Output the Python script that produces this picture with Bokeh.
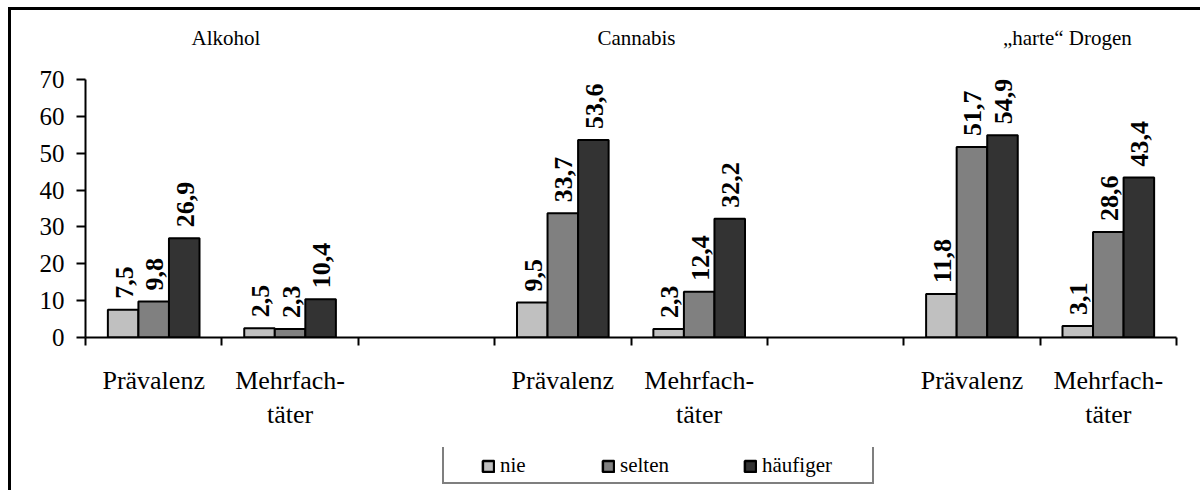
import math
from bokeh.plotting import figure
from bokeh.layouts import column
from bokeh.models import Range1d, FixedTicker, Legend, LegendItem, LinearAxis, ColumnDataSource
from bokeh.core.properties import value
from bokeh.embed import file_html
from bokeh.resources import INLINE

# ---- data ----
substances = ["Alkohol", "Cannabis", "„harte“ Drogen"]
measures = ["Prävalenz", "Mehrfach-\ntäter"]
series_names = ["nie", "selten", "häufiger"]
nie = [7.5, 2.5, 9.5, 2.3, 11.8, 3.1]
selten = [9.8, 2.3, 33.7, 12.4, 51.7, 28.6]
haeufiger = [26.9, 10.4, 53.6, 32.2, 54.9, 43.4]
y_ticks = [0, 10, 20, 30, 40, 50, 60, 70]

series = [nie, selten, haeufiger]
colors = ["#C0C0C0", "#808080", "#333333"]
FONT = "Liberation Serif"

# slots: each substance gets 2 measure slots + 1 empty slot
n_slots = len(substances) * 3 - 1
slot_of = [(j // 2) * 3 + (j % 2) for j in range(len(nie))]
bw = 0.224
offsets = [-bw, 0.0, bw]

BORDER_L, BORDER_R = 74, 24

p = figure(width=1189, height=437, output_backend="svg", toolbar_location=None,
           x_range=Range1d(0, n_slots), y_range=Range1d(0, 70),
           min_border_left=BORDER_L, min_border_right=BORDER_R,
           min_border_top=69, min_border_bottom=110)
p.outline_line_color = None
p.xgrid.visible = False
p.ygrid.visible = False
p.background_fill_color = "white"
p.border_fill_color = "white"

renderers = []
for k, vals in enumerate(series):
    xs = [s + 0.5 + offsets[k] for s in slot_of]
    labels = [f"{v:.1f}".replace(".", ",") for v in vals]
    src = ColumnDataSource(dict(x=xs, top=vals, lab=labels))
    r = p.vbar(x="x", top="top", bottom=0, width=bw, source=src,
               fill_color=colors[k], line_color="black", line_width=2)
    renderers.append(r)
    p.text(x="x", y="top", text="lab", source=src, angle=math.pi / 2,
           text_align="left", text_baseline="middle", y_offset=-11, x_offset=1,
           text_font=value(FONT), text_font_style="bold", text_font_size=value("26px"),
           text_color="black")

# y axis
ya = p.yaxis[0]
ya.ticker = FixedTicker(ticks=y_ticks)
ya.axis_line_width = 2
ya.axis_line_color = "black"
ya.major_tick_line_width = 2
ya.major_tick_line_color = "black"
ya.major_tick_out = 9
ya.major_tick_in = 0
ya.minor_tick_line_color = None
ya.major_label_text_font = FONT
ya.major_label_text_font_size = "25px"
ya.major_label_text_color = "black"
ya.major_label_standoff = 12

# x axis: labels at slot centres, tick marks at slot boundaries
cat_labels = []
for s in substances:
    cat_labels += measures + [""]
cat_labels = cat_labels[:n_slots]
xa = p.xaxis[0]
xa.ticker = FixedTicker(ticks=[i + 0.5 for i in range(n_slots)],
                        minor_ticks=list(range(n_slots + 1)))
xa.major_label_overrides = {i + 0.5: cat_labels[i] for i in range(n_slots)}
xa.major_tick_line_color = None
xa.major_tick_out = 8
xa.major_tick_in = 0
xa.minor_tick_line_color = "black"
xa.minor_tick_line_width = 2
xa.minor_tick_out = 8
xa.minor_tick_in = 0
xa.axis_line_width = 2
xa.axis_line_color = "black"
xa.major_label_text_font = FONT
xa.major_label_text_font_size = "26px"
xa.major_label_text_color = "black"
xa.major_label_standoff = 20

# substance titles as an axis above the frame
title_pos = [1.03, 4.04, 7.2]
ta = LinearAxis(ticker=FixedTicker(ticks=title_pos),
                major_label_overrides={t: s for t, s in zip(title_pos, substances)},
                axis_line_color=None, major_tick_line_color=None, minor_tick_line_color=None,
                major_tick_out=0, major_tick_in=0,
                major_label_text_font=FONT, major_label_text_font_size="21px",
                major_label_text_color="black", major_label_standoff=30)
p.add_layout(ta, "above")

# legend strip: own small figure with the same frame borders as the chart
lg = figure(width=1189, height=43, output_backend="svg", toolbar_location=None,
            x_range=Range1d(0, 1), y_range=Range1d(0, 1),
            x_axis_location=None, y_axis_location=None,
            min_border_left=BORDER_L, min_border_right=BORDER_R,
            min_border_top=0, min_border_bottom=6)
lg.xgrid.visible = False
lg.ygrid.visible = False
lg.outline_line_color = None
lg.outline_line_alpha = 0
lg.border_fill_color = "white"
lg.background_fill_color = "white"

box_x = 357
# bordered box (blank item, invisible glyph); proxy glyphs sit outside the visible canvas
blank = lg.vbar(x=[0.5], bottom=[5], top=[6], width=0.1, fill_alpha=0, line_alpha=0)
lg.add_layout(Legend(items=[LegendItem(label=" ", renderers=[blank])],
                     location=(box_x, 0), orientation="horizontal",
                     border_line_color="black", border_line_width=2,
                     background_fill_color="white", background_fill_alpha=1,
                     label_text_font_size="10px",
                     glyph_width=1, glyph_height=1, label_standoff=0,
                     label_width=427, label_height=37, padding=0, margin=0), "center")

item_x = [39, 159, 301]
for name, col, ix in zip(series_names, colors, item_x):
    rr = lg.vbar(x=[0.5], bottom=[5], top=[6], width=0.1,
                 fill_color=col, line_color="black", line_width=2.5)
    lg.add_layout(Legend(items=[LegendItem(label=name, renderers=[rr])],
                         location=(box_x + ix, 6), orientation="horizontal",
                         border_line_color=None, background_fill_alpha=0,
                         label_text_font=FONT, label_text_font_size="21px",
                         label_text_color="black",
                         glyph_width=14, glyph_height=14, label_standoff=5,
                         label_height=14, padding=0, margin=0), "center")

layout = column(p, lg, spacing=0,
                styles={"margin-left": "8px", "margin-top": "7px",
                        "border-left": "3px solid black", "border-top": "3px solid black"})

open("out.html", "w").write(file_html(layout, INLINE))
